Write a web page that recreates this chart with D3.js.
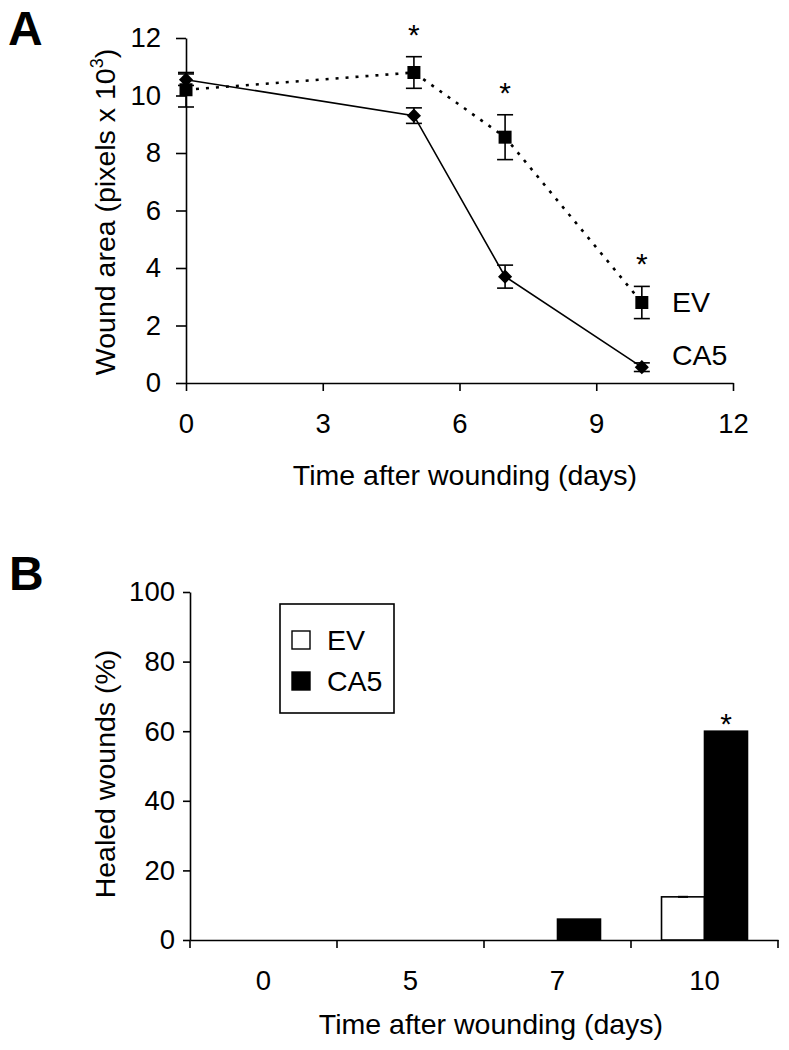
<!DOCTYPE html>
<html>
<head>
<meta charset="utf-8">
<script src="https://cdn.jsdelivr.net/npm/d3@7"></script>
<style>
  html, body { margin: 0; padding: 0; background: #fff; }
  svg text { font-family: "Liberation Sans", Arial, sans-serif; fill: #000; }
</style>
</head>
<body>
<svg id="fig" width="789" height="1050"></svg>
<script>
// panel A: wound area over time
const days = [0, 5, 7, 10];
const evArea = [10.2, 10.8, 8.55, 2.8];
const evErr = [0.6, 0.55, 0.78, 0.56];
const ca5Area = [10.55, 9.3, 3.7, 0.55];
const ca5Err = [0.2, 0.27, 0.4, 0.15];
const sigDaysA = [5, 7, 10];
const xTicksA = [0, 3, 6, 9, 12];
const yTicksA = [0, 2, 4, 6, 8, 10, 12];

// panel B: healed wounds
const healDays = ['0', '5', '7', '10'];
const healSeries = ['EV', 'CA5'];
const evHealed = [0, 0, 0, 12.4];
const evHealedErr = [0, 0, 0, 0.3];
const ca5Healed = [0, 0, 6, 60];
const sigDaysB = ['10'];
const yTicksB = [0, 20, 40, 60, 80, 100];

const svg = d3.select('#fig');
const ink = '#000';
const tickFont = 27.5;
const titleFont = 28.5;

// ---------- panel A ----------
const xA = d3.scaleLinear().domain([0, 12]).range([186, 733]);
const yA = d3.scaleLinear().domain([0, 12]).range([383, 38]);
const gA = svg.append('g');

gA.append('text').attr('x', 8).attr('y', 45).attr('font-size', 48).attr('font-weight', 'bold').text('A');

const axA = gA.append('g').attr('transform', 'translate(0,383)')
  .call(d3.axisBottom(xA).tickValues(xTicksA).tickSize(8).tickSizeOuter(0).tickPadding(22));
const ayA = gA.append('g').attr('transform', 'translate(186,0)')
  .call(d3.axisLeft(yA).tickValues(yTicksA).tickSize(10).tickSizeOuter(0).tickPadding(15));
[axA, ayA].forEach((ax) => {
  ax.select('.domain').attr('stroke', ink).attr('stroke-width', 1.6);
  ax.selectAll('.tick line').attr('stroke', ink).attr('stroke-width', 1.6);
  ax.selectAll('.tick text').attr('font-size', tickFont).attr('fill', ink).attr('font-family', '"Liberation Sans", Arial, sans-serif');
});

gA.append('text').attr('x', 465).attr('y', 485).attr('text-anchor', 'middle').attr('font-size', titleFont)
  .text('Time after wounding (days)');
const yTitleA = gA.append('text').attr('transform', 'translate(115,212) rotate(-90)')
  .attr('text-anchor', 'middle').attr('font-size', titleFont);
yTitleA.append('tspan').text('Wound area (pixels x 10');
yTitleA.append('tspan').attr('font-size', 18).attr('dy', -12).text('3');
yTitleA.append('tspan').attr('dy', 12).text(')');

const evRows = days.map((d, i) => ({ day: d, v: evArea[i], e: evErr[i] }));
const caRows = days.map((d, i) => ({ day: d, v: ca5Area[i], e: ca5Err[i] }));
const lineA = d3.line().x((r) => xA(r.day)).y((r) => yA(r.v));

gA.append('path').datum(caRows).attr('d', lineA).attr('fill', 'none').attr('stroke', ink).attr('stroke-width', 1.6);
gA.append('path').datum(evRows).attr('d', lineA).attr('fill', 'none').attr('stroke', ink)
  .attr('stroke-width', 2.6).attr('stroke-dasharray', '3,7');

function errorBars(g, rows, capHalf) {
  const eb = g.append('g').attr('stroke', ink).attr('stroke-width', 1.6);
  rows.forEach((r) => {
    const x = xA(r.day);
    eb.append('line').attr('x1', x).attr('x2', x).attr('y1', yA(r.v - r.e)).attr('y2', yA(r.v + r.e));
    [r.v - r.e, r.v + r.e].forEach((v) => {
      eb.append('line').attr('x1', x - capHalf).attr('x2', x + capHalf).attr('y1', yA(v)).attr('y2', yA(v));
    });
  });
}
errorBars(gA, caRows, 8);
errorBars(gA, evRows, 8);

gA.selectAll('.ca5-pt').data(caRows).enter().append('path').attr('class', 'ca5-pt')
  .attr('d', d3.symbol().type(d3.symbolSquare).size(100))
  .attr('transform', (r) => 'translate(' + xA(r.day) + ',' + yA(r.v) + ') rotate(45)')
  .attr('fill', ink);
gA.selectAll('.ev-pt').data(evRows).enter().append('path').attr('class', 'ev-pt')
  .attr('d', d3.symbol().type(d3.symbolSquare).size(169))
  .attr('transform', (r) => 'translate(' + xA(r.day) + ',' + yA(r.v) + ')')
  .attr('fill', ink);

gA.selectAll('.star-a').data(evRows.filter((r) => sigDaysA.includes(r.day))).enter().append('text')
  .attr('class', 'star-a').attr('text-anchor', 'middle').attr('font-size', 30)
  .attr('x', (r) => xA(r.day)).attr('y', (r) => yA(r.v + r.e) - 12).text('*');

gA.append('text').attr('x', 672).attr('y', 312).attr('font-size', 28.5).text('EV');
gA.append('text').attr('x', 672).attr('y', 365).attr('font-size', 28.5).text('CA5');

// ---------- panel B ----------
const xB = d3.scaleBand().domain(healDays).range([190, 778]);
const xSub = d3.scaleBand().domain(healSeries).range([0, xB.bandwidth()]).paddingOuter(0.71);
const yB = d3.scaleLinear().domain([0, 100]).range([940, 592]);
const gB = svg.append('g');

gB.append('text').attr('x', 9).attr('y', 590).attr('font-size', 48).attr('font-weight', 'bold').text('B');

const ayB = gB.append('g').attr('transform', 'translate(190,0)')
  .call(d3.axisLeft(yB).tickValues(yTicksB).tickSize(7).tickSizeOuter(0).tickPadding(8));
const axB = gB.append('g').attr('transform', 'translate(0,940)')
  .call(d3.axisBottom(xB).tickSize(0).tickPadding(30));
[axB, ayB].forEach((ax) => {
  ax.select('.domain').attr('stroke', ink).attr('stroke-width', 1.6);
  ax.selectAll('.tick line').attr('stroke', ink).attr('stroke-width', 1.6);
  ax.selectAll('.tick text').attr('font-size', tickFont).attr('fill', ink).attr('font-family', '"Liberation Sans", Arial, sans-serif');
});
// category separators below the axis
const edges = [xB.range()[0]].concat(healDays.map((d) => xB(d) + xB.bandwidth()));
gB.selectAll('.sep').data(edges).enter().append('line').attr('class', 'sep')
  .attr('x1', (x) => x).attr('x2', (x) => x).attr('y1', 940).attr('y2', 948)
  .attr('stroke', ink).attr('stroke-width', 1.6);

gB.append('text').attr('x', 491).attr('y', 1034).attr('text-anchor', 'middle').attr('font-size', titleFont)
  .text('Time after wounding (days)');
gB.append('text').attr('transform', 'translate(115,774) rotate(-90)')
  .attr('text-anchor', 'middle').attr('font-size', titleFont).text('Healed wounds (%)');

const barRows = [];
healDays.forEach((d, i) => {
  barRows.push({ day: d, s: 'EV', v: evHealed[i], e: evHealedErr[i] });
  barRows.push({ day: d, s: 'CA5', v: ca5Healed[i], e: 0 });
});
gB.selectAll('.bar').data(barRows.filter((r) => r.v > 0)).enter().append('rect').attr('class', 'bar')
  .attr('x', (r) => xB(r.day) + xSub(r.s))
  .attr('y', (r) => yB(r.v))
  .attr('width', xSub.bandwidth())
  .attr('height', (r) => yB(0) - yB(r.v))
  .attr('fill', (r) => r.s === 'EV' ? '#fff' : ink)
  .attr('stroke', ink).attr('stroke-width', 1.6);

gB.selectAll('.bar-err').data(barRows.filter((r) => r.e > 0)).enter().append('line').attr('class', 'bar-err')
  .attr('x1', (r) => xB(r.day) + xSub(r.s) + xSub.bandwidth() / 2 - 5)
  .attr('x2', (r) => xB(r.day) + xSub(r.s) + xSub.bandwidth() / 2 + 5)
  .attr('y1', (r) => yB(r.v + r.e) + 1).attr('y2', (r) => yB(r.v + r.e) + 1)
  .attr('stroke', ink).attr('stroke-width', 2);

gB.selectAll('.star-b').data(barRows.filter((r) => r.s === 'CA5' && sigDaysB.includes(r.day))).enter().append('text')
  .attr('class', 'star-b').attr('text-anchor', 'middle').attr('font-size', 30)
  .attr('x', (r) => xB(r.day) + xSub(r.s) + xSub.bandwidth() / 2)
  .attr('y', (r) => yB(r.v) + 3).text('*');

// legend
const leg = gB.append('g');
leg.append('rect').attr('x', 280).attr('y', 604).attr('width', 114).attr('height', 109)
  .attr('fill', '#fff').attr('stroke', ink).attr('stroke-width', 1.6);
healSeries.forEach((s, i) => {
  const y = 631 + i * 41;
  leg.append('rect').attr('x', 292).attr('y', y).attr('width', 18).attr('height', 18)
    .attr('fill', s === 'EV' ? '#fff' : ink).attr('stroke', ink).attr('stroke-width', 1.4);
  leg.append('text').attr('x', 327).attr('y', y + 19).attr('font-size', 28.5).text(s);
});
</script>
</body>
</html>
